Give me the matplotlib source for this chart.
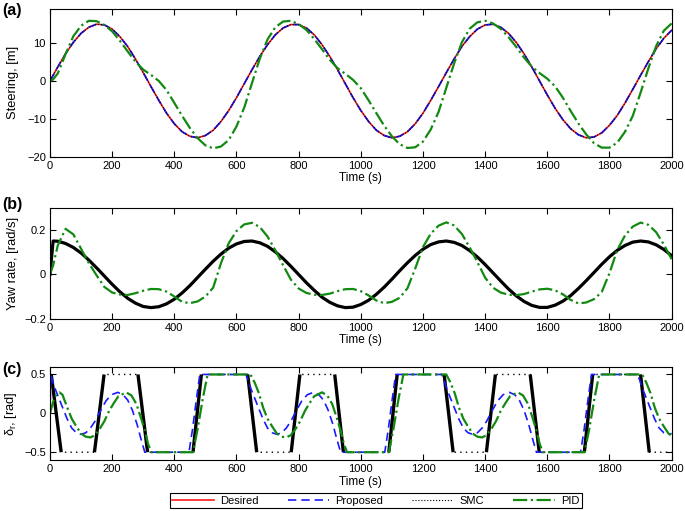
import numpy as np
import matplotlib
matplotlib.use('Agg')
import matplotlib.pyplot as plt

plt.rcParams['font.family'] = ['Liberation Sans', 'DejaVu Sans']
plt.rcParams['mathtext.fontset'] = 'custom'
plt.rcParams['mathtext.rm'] = 'Liberation Sans'
plt.rcParams['mathtext.it'] = 'Liberation Sans:italic'

# ── time grid for panels (a) and (b) ─────────────────────────
time_ab = np.concatenate(([0, 10], np.arange(25, 2001, 25)))

# (a) steering [m]
steer_desired = [
    0, 1.5, 3.7, 7.2, 10.2, 12.6, 14.2, 15.0, 14.8, 13.7, 11.7, 9.1, 5.8, 2.2,
    -1.5, -5.1, -8.5, -11.3, -13.4, -14.6, -15.0, -14.4, -13.0, -10.7, -7.8, -4.4,
    -0.7, 3.0, 6.5, 9.6, 12.2, 14.0, 14.9, 14.9, 14.0, 12.2, 9.6, 6.5, 3.0, -0.7,
    -4.4, -7.8, -10.7, -13.0, -14.4, -15.0, -14.6, -13.4, -11.3, -8.5, -5.1, -1.5,
    2.2, 5.8, 9.1, 11.7, 13.7, 14.8, 15.0, 14.2, 12.6, 10.2, 7.2, 3.7, 0.0, -3.7,
    -7.2, -10.2, -12.6, -14.2, -15.0, -14.8, -13.7, -11.7, -9.1, -5.8, -2.2, 1.5,
    5.1, 8.5, 11.3, 13.4]
steer_proposed = steer_desired
steer_smc = steer_desired
steer_pid = [
    0, 0.4, 2.0, 7.1, 11.8, 14.6, 15.9, 15.8, 14.8, 13.1, 10.6, 7.8, 5.1, 3.0, 1.6,
    0.0, -2.4, -5.8, -9.2, -12.4, -15.1, -17.0, -17.8, -17.3, -15.6, -12.0, -7.0,
    -0.5, 5.9, 11.0, 14.2, 15.7, 15.9, 15.0, 13.5, 11.1, 8.4, 5.6, 3.4, 1.9, 0.3,
    -1.9, -5.1, -8.5, -11.8, -14.6, -16.7, -17.7, -17.5, -16.0, -12.8, -8.2,
    -1.8, 4.6, 10.2, 13.8, 15.5, 15.9, 15.2, 13.8, 11.6, 9.0, 6.2, 3.8, 2.1, 0.6,
    -1.4, -4.4, -7.9, -11.2, -14.1, -16.4, -17.6, -17.6, -16.3, -13.4, -9.2,
    -3.1, 3.3, 9.2, 13.3, 15.2]

# (b) yaw rate [rad/s]
yaw_smc = [
    0, 0.150,
    0.149, 0.139, 0.121, 0.096, 0.064, 0.029, -0.008, -0.045, -0.079, -0.108,
    -0.130, -0.145, -0.150, -0.146, -0.133, -0.112, -0.084, -0.051, -0.014, 0.023,
    0.059, 0.091, 0.118, 0.137, 0.148, 0.150, 0.142, 0.126, 0.101, 0.071,
    0.036, -0.001, -0.038, -0.072, -0.103, -0.126, -0.142, -0.150, -0.148, -0.136,
    -0.117, -0.090, -0.058, -0.022, 0.016, 0.052, 0.085, 0.113, 0.134, 0.146,
    0.150, 0.144, 0.130, 0.107, 0.078, 0.044, 0.007, -0.030, -0.066, -0.097,
    -0.122, -0.140, -0.149, -0.149, -0.139, -0.121, -0.096, -0.064, -0.029, 0.008,
    0.045, 0.079, 0.108, 0.130, 0.145, 0.150, 0.146, 0.133, 0.112, 0.084]
yaw_proposed = yaw_smc
yaw_pid = [
    0, 0.04,
    0.130, 0.205, 0.180, 0.115, 0.050, -0.005, -0.057, -0.082, -0.091, -0.093,
    -0.085, -0.074, -0.066, -0.067, -0.078, -0.100, -0.124, -0.130, -0.122, -0.100,
    -0.060, 0.050, 0.140, 0.195, 0.225,
    0.232, 0.213, 0.170, 0.108, 0.041, -0.024, -0.064, -0.084, -0.092, -0.093,
    -0.087, -0.076, -0.067, -0.066, -0.076, -0.095, -0.118, -0.130, -0.124, -0.106,
    -0.063, 0.026, 0.123, 0.183, 0.219,
    0.234, 0.220, 0.182, 0.122, 0.055, -0.015, -0.060, -0.082, -0.092, -0.094,
    -0.089, -0.078, -0.068, -0.065, -0.072, -0.090, -0.115, -0.131, -0.127, -0.112,
    -0.080, 0.005, 0.110, 0.175, 0.215,
    0.233, 0.223, 0.190, 0.134, 0.068]

# (c) rudder angle [rad]
prop_c_t = [
    0, 3, 8, 18, 38, 55, 70, 85, 100, 115, 130, 145, 162, 180, 198, 218, 235, 250,
    265, 280, 292, 305, 447, 458, 470, 482,
    630, 638, 648, 668, 685, 700, 715, 730, 745, 760, 775, 792, 810, 828, 848, 865,
    880, 895, 910, 922, 935, 1077, 1088, 1100, 1112,
    1260, 1268, 1278, 1298, 1315, 1330, 1345, 1360, 1375, 1390, 1405, 1422, 1440,
    1458, 1478, 1495, 1510, 1525, 1540, 1552, 1565, 1707, 1718, 1730, 1742,
    1890, 1898, 1908, 1928, 1945, 1960, 1975, 1990, 2000]
prop_c_v = [
    0.0, 0.50, 0.42, 0.30, 0.10, -0.07, -0.19, -0.25, -0.27, -0.25, -0.19, -0.10,
    0.03, 0.16, 0.24, 0.27, 0.24, 0.17, 0.04, -0.14, -0.32, -0.50, -0.50, -0.22,
    0.15, 0.50,
    0.50, 0.42, 0.30, 0.10, -0.07, -0.19, -0.25, -0.27, -0.25, -0.19, -0.10,
    0.03, 0.16, 0.24, 0.27, 0.24, 0.17, 0.04, -0.14, -0.32, -0.50, -0.50, -0.22,
    0.15, 0.50,
    0.50, 0.42, 0.30, 0.10, -0.07, -0.19, -0.25, -0.27, -0.25, -0.19, -0.10,
    0.03, 0.16, 0.24, 0.27, 0.24, 0.17, 0.04, -0.14, -0.32, -0.50, -0.50, -0.22,
    0.15, 0.50,
    0.50, 0.42, 0.30, 0.10, -0.07, -0.19, -0.25, -0.27, -0.26]

smc_c_t = [0, 4, 36, 143, 174, 283, 314, 460, 487, 636, 665, 776, 804, 916, 944,
           1090, 1117, 1268, 1297, 1404, 1433, 1545, 1574, 1719, 1746, 1900, 1928,
           2000]
smc_c_v = [0.5, 0.5, -0.5, -0.5, 0.5, 0.5, -0.5, -0.5, 0.5, 0.5, -0.5, -0.5, 0.5,
           0.5, -0.5, -0.5, 0.5, 0.5, -0.5, -0.5, 0.5, 0.5, -0.5, -0.5, 0.5, 0.5,
           -0.5, -0.5]

pid_c_t = [
    0, 10, 20, 30, 40, 56, 70, 85, 100, 115, 130, 145, 160, 175, 190, 205, 220, 245,
    262, 278, 292, 305, 316, 326, 460, 475, 492, 507,
    645, 658, 672, 686, 700, 715, 730, 745, 760, 775, 790, 805, 820, 835, 850, 875,
    892, 908, 922, 935, 946, 956, 1090, 1105, 1122, 1137,
    1275, 1288, 1302, 1316, 1330, 1345, 1360, 1375, 1390, 1405, 1420, 1435, 1450,
    1465, 1480, 1505, 1522, 1538, 1552, 1565, 1576, 1586, 1720, 1735, 1752, 1767,
    1905, 1918, 1932, 1946, 1960, 1975, 1990, 2000]
pid_c_v = [
    0.0, 0.15, 0.24, 0.27, 0.24, 0.07, -0.07, -0.17, -0.26, -0.30, -0.31, -0.28,
    -0.20, -0.10, 0.03, 0.13, 0.22, 0.27, 0.23, 0.12, -0.05, -0.22, -0.40, -0.50,
    -0.50, -0.20, 0.20, 0.50,
    0.50, 0.40, 0.26, 0.07, -0.07, -0.17, -0.26, -0.30, -0.31, -0.28, -0.20, -0.10,
    0.03, 0.13, 0.22, 0.27, 0.23, 0.12, -0.05, -0.22, -0.40, -0.50, -0.50, -0.20,
    0.20, 0.50,
    0.50, 0.40, 0.26, 0.07, -0.07, -0.17, -0.26, -0.30, -0.31, -0.28, -0.20, -0.10,
    0.03, 0.13, 0.22, 0.27, 0.23, 0.12, -0.05, -0.22, -0.40, -0.50, -0.50, -0.20,
    0.20, 0.50,
    0.50, 0.40, 0.26, 0.07, -0.07, -0.17, -0.26, -0.29]

RED, BLUE, GREEN = '#ff1a1a', '#1a1aff', '#128a12'

fig = plt.figure(figsize=(6.85, 5.11), dpi=100)
ax1 = fig.add_axes([0.073, 0.6933, 0.9075, 0.289])
ax2 = fig.add_axes([0.073, 0.3763, 0.9075, 0.2172])
ax3 = fig.add_axes([0.073, 0.0998, 0.9075, 0.1826])

# (a)
h1, = ax1.plot(time_ab, steer_desired, color=RED, lw=1.2, label='Desired')
h2, = ax1.plot(time_ab, steer_proposed, color=BLUE, lw=1.2, dashes=(5, 3),
               label='Proposed')
h3, = ax1.plot(time_ab, steer_smc, color='k', lw=0.8, ls=':', label='SMC')
h4, = ax1.plot(time_ab, steer_pid, color=GREEN, lw=1.6, ls='-.', label='PID')
ax1.set_ylim(-20, 19)
ax1.set_yticks([-20, -10, 0, 10])
ax1.set_ylabel('Steering, [m]')

# (b)
ax2.plot(time_ab, yaw_proposed, color=BLUE, lw=1.2, dashes=(5, 3))
ax2.plot(time_ab, yaw_smc, color='k', lw=2.3)
ax2.plot(time_ab, yaw_pid, color=GREEN, lw=1.6, ls='-.')
ax2.set_ylim(-0.2, 0.3)
ax2.set_yticks([-0.2, 0, 0.2])
ax2.set_yticklabels(['\u22120.2', '0', '0.2'])
ax2.set_ylabel('Yaw rate, [rad/s]')

# (c)
ax3.plot(smc_c_t, smc_c_v, color='k', lw=1.0, dashes=(1, 3))
for i in range(len(smc_c_t) - 1):
    if smc_c_v[i] != smc_c_v[i + 1]:
        ax3.plot(smc_c_t[i:i + 2], smc_c_v[i:i + 2], color='k', lw=2.4,
                 solid_capstyle='butt')
ax3.plot(prop_c_t, prop_c_v, color=BLUE, lw=1.2, dashes=(5, 3))
ax3.plot(pid_c_t, pid_c_v, color=GREEN, lw=1.6, ls='-.')
ax3.set_ylim(-0.6, 0.6)
ax3.set_yticks([-0.5, 0, 0.5])
ax3.set_yticklabels(['\u22120.5', '0', '0.5'])
ax3.set_ylabel(r'$\mathrm{\delta_r}$, [rad]')

for ax in (ax1, ax2, ax3):
    ax.set_xlim(0, 2000)
    ax.set_xticks(np.arange(0, 2001, 200))
    ax.set_xlabel('Time (s)', fontsize=8.5, labelpad=1)
    ax.yaxis.label.set_size(9.3)
    ax.yaxis.set_label_coords(-0.05, 0.5)
    ax.tick_params(direction='in', top=True, right=True, length=4, width=0.8,
                   labelsize=8, pad=3)
    for sp in ax.spines.values():
        sp.set_linewidth(0.8)

fig.text(0.003, 0.98, '(a)', fontsize=11.5, fontweight='bold', va='center')
fig.text(0.003, 0.60, '(b)', fontsize=11.5, fontweight='bold', va='center')
fig.text(0.003, 0.276, '(c)', fontsize=11.5, fontweight='bold', va='center')

leg = fig.legend([h1, h2, h3, h4], ['Desired', 'Proposed', 'SMC', 'PID'],
                 loc='center', bbox_to_anchor=(0.549, 0.0205), ncol=4,
                 frameon=True, fancybox=False, edgecolor='black', framealpha=1,
                 fontsize=8, handlelength=3.7, columnspacing=2.6,
                 borderpad=0.25, handletextpad=0.6)
leg.get_frame().set_linewidth(0.8)

fig.savefig('out.png', dpi=100)
